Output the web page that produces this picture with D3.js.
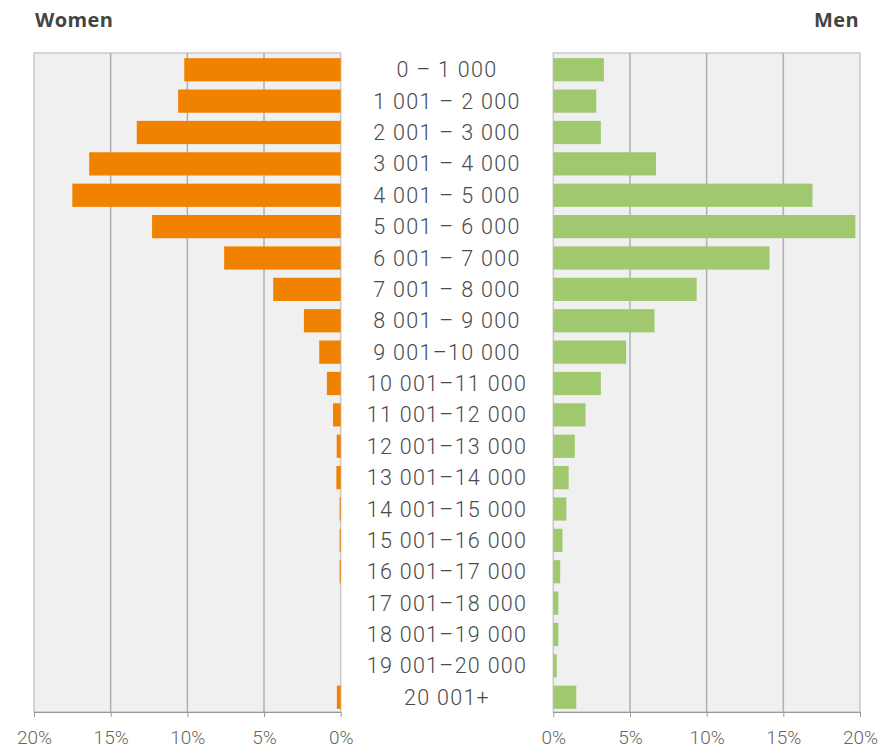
<!DOCTYPE html>
<html lang="en">
<head>
  <meta charset="utf-8">
  <title>Women / Men income distribution</title>
  <script src="https://d3js.org/d3.v7.min.js"></script>
  <style>
    body { margin: 0; background: #fff; }
    .title { font: bold 20px "Open Sans", sans-serif; fill: #444; letter-spacing: 0.4px; }
    .cat { font: 300 21.5px Roboto, sans-serif; fill: #4a4a4a; letter-spacing: 1.3px; }
    .axis text { font: 300 19px Roboto, sans-serif; fill: #666; }
    .axis path, .axis line { stroke: #999; }
  </style>
</head>
<body>
  <div id="chart"></div>
  <script>
    "use strict"

    // income groups (top to bottom)
    var grupos = ["0 – 1 000", "1 001 – 2 000", "2 001 – 3 000", "3 001 – 4 000",
      "4 001 – 5 000", "5 001 – 6 000", "6 001 – 7 000", "7 001 – 8 000",
      "8 001 – 9 000", "9 001–10 000", "10 001–11 000", "11 001–12 000",
      "12 001–13 000", "13 001–14 000", "14 001–15 000", "15 001–16 000",
      "16 001–17 000", "17 001–18 000", "18 001–19 000", "19 001–20 000", "20 001+"];

    // share in each group, %
    var mulheres = [10.2, 10.6, 13.3, 16.4, 17.5, 12.3, 7.6, 4.4, 2.4, 1.4,
      0.9, 0.5, 0.26, 0.28, 0.07, 0.07, 0.07, 0, 0, 0, 0.25];
    var homens = [3.3, 2.8, 3.1, 6.7, 16.9, 19.7, 14.1, 9.35, 6.6, 4.75,
      3.1, 2.1, 1.4, 1.0, 0.85, 0.6, 0.45, 0.33, 0.33, 0.22, 1.5];

    var ticks = [0, 5, 10, 15, 20];

    var larguraSVG = 882, alturaSVG = 751;
    var topo = 53, base = 712;

    var svg = d3.select("#chart").append("svg")
      .attr("width", larguraSVG)
      .attr("height", alturaSVG);

    var y = d3.scaleBand()
      .domain(grupos)
      .range([topo + 2, base])
      .paddingInner(0.26)
      .paddingOuter(0.1);

    var xW = d3.scaleLinear().domain([0, 20]).range([340.7, 34]);
    var xM = d3.scaleLinear().domain([0, 20]).range([553.3, 860]);

    function painel(x, valores, cor) {
      var x0 = Math.min(x(0), x(20)), x1 = Math.max(x(0), x(20));
      var g = svg.append("g");

      g.append("rect")
        .attr("x", x0).attr("y", topo)
        .attr("width", x1 - x0).attr("height", base - topo)
        .attr("fill", "#f0f0f0")
        .attr("stroke", "#c9c9c9")
        .attr("stroke-width", 1.5);

      g.selectAll("line.grade")
        .data(ticks.slice(1, 4))
        .enter().append("line")
          .attr("class", "grade")
          .attr("x1", function(d) { return x(d); })
          .attr("x2", function(d) { return x(d); })
          .attr("y1", topo).attr("y2", base)
          .attr("stroke", "#b0b0b0")
          .attr("stroke-width", 1.5);

      g.selectAll("rect.barra")
        .data(valores)
        .enter().append("rect")
          .attr("class", "barra")
          .attr("x", function(d) { return Math.min(x(0), x(d)); })
          .attr("y", function(d, i) { return y(grupos[i]); })
          .attr("width", function(d) { return Math.abs(x(d) - x(0)); })
          .attr("height", y.bandwidth())
          .attr("fill", cor);

      svg.append("g")
        .attr("class", "axis")
        .attr("transform", "translate(0," + base + ")")
        .call(d3.axisBottom(x).tickValues(ticks)
          .tickFormat(function(d) { return d + "%"; })
          .tickSize(5).tickSizeOuter(0).tickPadding(14));
    }

    painel(xW, mulheres, "#f08200");
    painel(xM, homens, "#a0c96f");

    svg.selectAll("text.cat")
      .data(grupos)
      .enter().append("text")
        .attr("class", "cat")
        .attr("x", 447)
        .attr("y", function(d) { return y(d) + y.bandwidth() / 2; })
        .attr("dy", "0.35em")
        .attr("text-anchor", "middle")
        .text(function(d) { return d; });

    svg.append("text").attr("class", "title")
      .attr("x", 35).attr("y", 27).text("Women");
    svg.append("text").attr("class", "title")
      .attr("x", 859).attr("y", 27).attr("text-anchor", "end").text("Men");
  </script>
</body>
</html>
